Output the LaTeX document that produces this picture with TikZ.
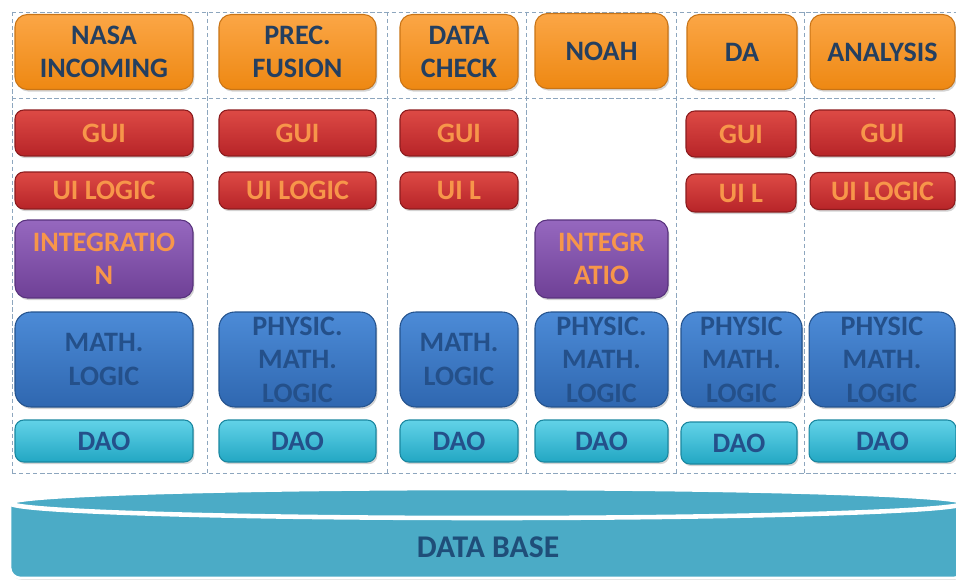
\documentclass[tikz,border=0pt]{standalone}
\usepackage{fontspec}
\setmainfont{Carlito}
\usetikzlibrary{shadows}

\definecolor{labelblue}{HTML}{243F60}
\definecolor{labelorange}{HTML}{F7964A}
\definecolor{gridc}{HTML}{8DA6BE}
\definecolor{orangetop}{HTML}{FBA646}
\definecolor{orangebot}{HTML}{EE8812}
\definecolor{orangeline}{HTML}{C97416}
\definecolor{redtop}{HTML}{DD4A45}
\definecolor{redbot}{HTML}{B72428}
\definecolor{redline}{HTML}{8C1C1E}
\definecolor{purpletop}{HTML}{9668BF}
\definecolor{purplebot}{HTML}{6F4096}
\definecolor{purpleline}{HTML}{58327D}
\definecolor{bluetop}{HTML}{4C8BD7}
\definecolor{bluebot}{HTML}{2F67B0}
\definecolor{blueline}{HTML}{24538E}
\definecolor{logicblue}{HTML}{24508A}
\definecolor{cyantop}{HTML}{62D2E8}
\definecolor{cyanbot}{HTML}{22A7C3}
\definecolor{cyanline}{HTML}{1A87A0}
\definecolor{dbfill}{HTML}{4BABC6}
\definecolor{dbtext}{HTML}{1F4E79}

\tikzset{
  box/.style={draw, line width=0.6pt, rounded corners=5pt, align=center, inner sep=0pt,
    font=\fontsize{16}{19}\selectfont\bfseries,
    drop shadow={shadow xshift=0.8pt, shadow yshift=-1.2pt, opacity=0.35}},
  appbox/.style={box, rounded corners=7pt, minimum height=1.5cm, draw=orangeline,
    top color=orangetop, bottom color=orangebot, text=labelblue},
  guibox/.style={box, minimum height=0.92cm, draw=redline,
    top color=redtop, bottom color=redbot, text=labelorange},
  uibox/.style={guibox, minimum height=0.74cm},
  intbox/.style={box, rounded corners=7pt, minimum height=1.56cm, draw=purpleline,
    top color=purpletop, bottom color=purplebot, text=labelorange},
  logicbox/.style={box, rounded corners=9pt, minimum height=1.9cm, draw=blueline,
    top color=bluetop, bottom color=bluebot, text=logicblue},
  daobox/.style={box, minimum height=0.84cm, draw=cyanline,
    top color=cyantop, bottom color=cyanbot, text=logicblue},
  sepline/.style={draw=gridc, line width=0.5pt, dash pattern=on 2.5pt off 1.5pt},
}

\begin{document}
\begin{tikzpicture}[x=0.02cm, y=-0.02cm]
\useasboundingbox (0,0) rectangle (956,581);

% column separators
\draw[sepline] (12,12) -- (956,12);
\draw[sepline] (12,98) -- (935,98);
\draw[sepline] (12,473) -- (956,473);
\foreach \x in {12,207,387,526,676,804}
  \draw[sepline] (\x,12) -- (\x,473);

% applications
\node[appbox, minimum width=3.56cm] (nasa) at (104,52) {NASA\\INCOMING};
\node[appbox, minimum width=3.14cm] (fusion) at (297.5,52) {PREC.\\FUSION};
\node[appbox, minimum width=2.36cm] (check) at (459,52) {DATA\\CHECK};
\node[appbox, minimum width=2.66cm] (noah) at (601.5,51) {NOAH};
\node[appbox, minimum width=2.2cm] (da) at (742,52) {DA};
\node[appbox, minimum width=2.9cm] (analysis) at (882.5,52) {ANALYSIS};

% gui
\node[guibox, minimum width=3.56cm] (gui1) at (104,133) {GUI};
\node[guibox, minimum width=3.14cm] (gui2) at (297.5,133) {GUI};
\node[guibox, minimum width=2.36cm] (gui3) at (459,133) {GUI};
\node[guibox, minimum width=2.2cm] (gui5) at (741,134) {GUI};
\node[guibox, minimum width=2.9cm] (gui6) at (882.5,133) {GUI};

% ui logic
\node[uibox, minimum width=3.56cm] (uil1) at (104,190.5) {UI LOGIC};
\node[uibox, minimum width=3.14cm] (uil2) at (297.5,190.5) {UI LOGIC};
\node[uibox, minimum width=2.36cm] (uil3) at (459,190.5) {UI L};
\node[uibox, minimum width=2.2cm, minimum height=0.76cm] (uil5) at (741,193) {UI L};
\node[uibox, minimum width=2.9cm] (uil6) at (882.5,191) {UI LOGIC};

% integration
\node[intbox, minimum width=3.56cm] (integ1) at (104,259) {INTEGRATIO\\N};
\node[intbox, minimum width=2.66cm] (integ4) at (601.5,259) {INTEGR\\ATIO};

% logic
\node[logicbox, minimum width=3.56cm] (logic1) at (104,359.5) {MATH.\\LOGIC};
\node[logicbox, minimum width=3.14cm] (logic2) at (297.5,359.5) {PHYSIC.\\MATH.\\LOGIC};
\node[logicbox, minimum width=2.36cm] (logic3) at (459,359.5) {MATH.\\LOGIC};
\node[logicbox, minimum width=2.66cm] (logic4) at (601.5,359.5) {PHYSIC.\\MATH.\\LOGIC};
\node[logicbox, minimum width=2.42cm] (logic5) at (741.5,359.5) {PHYSIC\\MATH.\\LOGIC};
\node[logicbox, minimum width=2.92cm] (logic6) at (882,359.5) {PHYSIC\\MATH.\\LOGIC};

% dao
\node[daobox, minimum width=3.56cm] (dao1) at (104,441) {DAO};
\node[daobox, minimum width=3.14cm] (dao2) at (297.5,441) {DAO};
\node[daobox, minimum width=2.36cm] (dao3) at (459,441) {DAO};
\node[daobox, minimum width=2.66cm] (dao4) at (601.5,441) {DAO};
\node[daobox, minimum width=2.32cm] (dao5) at (739,443) {DAO};
\node[daobox, minimum width=2.94cm] (dao6) at (882.5,441) {DAO};

% data base
\path[fill=dbfill, draw=white, line width=1.5pt,
  drop shadow={shadow xshift=0.5pt, shadow yshift=-1pt, opacity=0.3}]
  (10,503) [rounded corners=6pt] -- (10,578) -- (964,578) [sharp corners] -- (964,503) -- cycle;
\draw[fill=dbfill, draw=white, line width=2.6pt] (487,503) ellipse [x radius=477, y radius=15];
\node[text=dbtext, font=\fontsize{18}{20}\selectfont\bfseries] (db) at (488,547) {DATA BASE};
\end{tikzpicture}
\end{document}
